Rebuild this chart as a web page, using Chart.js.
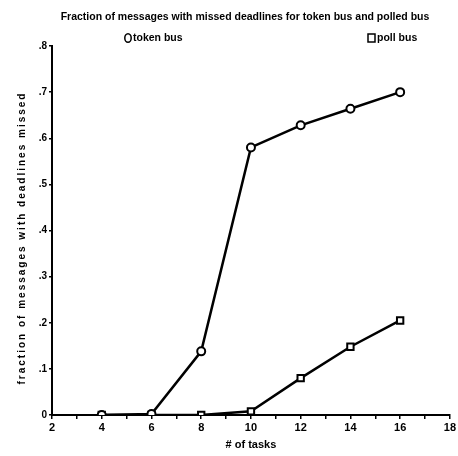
<!DOCTYPE html>
<html><head><meta charset="utf-8">
<script src="https://cdn.jsdelivr.net/npm/chart.js@4.4.0/dist/chart.umd.min.js"></script>
<style>html,body{margin:0;padding:0;background:#fff}#wrap{width:458px;height:456px}</style>
</head><body><div id="wrap"><canvas id="c" width="458" height="456"></canvas></div>
<script>
const titleText = "Fraction of messages with missed deadlines for token bus and polled bus";
const tasks = [4, 6, 8, 10, 12, 14, 16];
const tokenBus = [0, 0.002, 0.138, 0.58, 0.628, 0.664, 0.70];
const pollBus = [0, 0, 0, 0.008, 0.08, 0.148, 0.205];
const seriesLabels = ["token bus", "poll bus"];
const xTitle = "# of tasks";
const yTitle = "fraction of messages with deadlines missed";

const FONT = "'Liberation Sans', Arial, sans-serif";
const NARROW = "'Liberation Sans Narrow', 'Liberation Sans', Arial, sans-serif";

const headerPlugin = {
  id: 'header',
  afterDraw(chart) {
    const ctx = chart.ctx;
    ctx.save();
    ctx.fillStyle = '#000';
    ctx.textBaseline = 'middle';
    ctx.textAlign = 'center';
    ctx.font = "bold 10.5px " + FONT;
    ctx.fillText(titleText, 245, 17);
    // legend
    ctx.font = "bold 10.5px " + NARROW;
    ctx.textAlign = 'left';
    const items = [{x: 124, ds: 0}, {x: 368, ds: 1}];
    items.forEach(it => {
      const ds = chart.data.datasets[it.ds];
      ctx.lineWidth = 1.5;
      ctx.strokeStyle = '#000';
      ctx.beginPath();
      if (ds.pointStyle === 'circle') {
        ctx.ellipse(it.x + 4, 38, 3.2, 4.3, 0, 0, Math.PI * 2);
      } else {
        ctx.rect(it.x, 34, 7, 8);
      }
      ctx.stroke();
      ctx.fillText(ds.label, it.x + 9, 38.5);
    });
    // y title with letter spacing
    ctx.save();
    ctx.translate(22, 238);
    ctx.rotate(-Math.PI / 2);
    ctx.font = "bold 10px " + FONT;
    ctx.letterSpacing = '2px';
    ctx.textAlign = 'center';
    ctx.fillText(yTitle, 0, 0);
    ctx.restore();
    ctx.restore();
  }
};

new Chart(document.getElementById('c'), {
  type: 'line',
  data: {
    datasets: [
      {
        label: seriesLabels[0],
        data: tasks.map((t, i) => ({x: t, y: tokenBus[i]})),
        borderColor: '#000', borderWidth: 2.5,
        pointStyle: 'circle', pointRadius: 4, pointBorderWidth: 2,
        pointBackgroundColor: '#fff', pointBorderColor: '#000',
        tension: 0
      },
      {
        label: seriesLabels[1],
        data: tasks.map((t, i) => ({x: t, y: pollBus[i]})),
        borderColor: '#000', borderWidth: 2.5,
        pointStyle: 'rect', pointRadius: 4.5, pointBorderWidth: 2,
        pointBackgroundColor: '#fff', pointBorderColor: '#000',
        tension: 0
      }
    ]
  },
  options: {
    responsive: false,
    animation: false,
    devicePixelRatio: 1,
    layout: {padding: {top: 46, right: 6, left: 0, bottom: 0}},
    plugins: {legend: {display: false}, title: {display: false}, tooltip: {enabled: false}},
    scales: {
      x: {
        type: 'linear', min: 2, max: 18,
        ticks: {
          stepSize: 1, autoSkip: false, maxRotation: 0,
          color: '#000', font: {family: NARROW, size: 11, weight: 'bold'},
          padding: 2,
          callback: v => (v % 2 === 0 ? String(v) : '')
        },
        grid: {drawOnChartArea: false, tickLength: 4, color: '#000', lineWidth: 1.5},
        border: {color: '#000', width: 2},
        title: {display: true, text: xTitle, color: '#000', font: {family: NARROW, size: 11, weight: 'bold'}, padding: {top: 1, bottom: 4}},
        afterFit: s => { s.height = 41; }
      },
      y: {
        min: 0, max: 0.8,
        ticks: {
          stepSize: 0.1, color: '#000', font: {family: NARROW, size: 10, weight: 'bold'}, padding: 2,
          callback: v => { const n = Math.round(v * 10); return n === 0 ? '0' : '.' + n; }
        },
        grid: {drawOnChartArea: false, tickLength: 3, color: '#000', lineWidth: 1.5},
        border: {color: '#000', width: 2},
        title: {display: false},
        afterFit: s => { s.width = 52; }
      }
    }
  },
  plugins: [headerPlugin]
});
</script></body></html>
